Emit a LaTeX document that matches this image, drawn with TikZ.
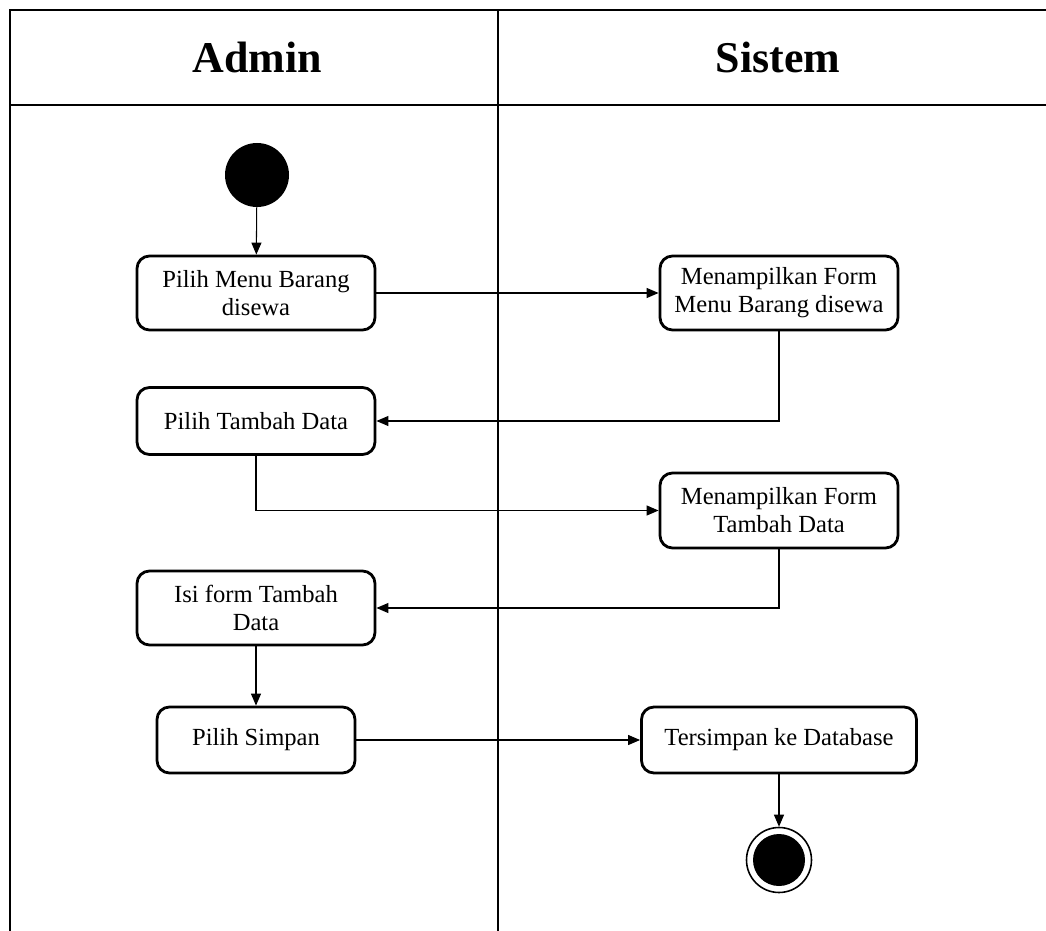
\documentclass[tikz,border=0pt]{standalone}
\usepackage{fontspec}
\setmainfont{Liberation Serif}
\usetikzlibrary{arrows.meta}

\tikzset{
  lane/.style={line width=1.6pt},
  act/.style={draw, line width=1.6pt, rounded corners=0.25cm, align=center,
    font=\fontsize{14}{16}\selectfont, inner sep=2pt},
  flow/.style={line width=0.6pt, -{Triangle[length=0.24cm,width=0.2cm]}},
  initstate/.style={circle, fill=black, minimum size=1.28cm, inner sep=0pt},
  finalstate/.style={circle, draw, line width=0.9pt, minimum size=1.3cm, inner sep=0pt,
    path picture={\fill (path picture bounding box.center) circle (0.52);}},
}

\begin{document}
\begin{tikzpicture}
  \useasboundingbox (0,0) rectangle (20.92,-18.62);
  % swimlanes
  \draw[lane] (20.92,-0.2) -- (0.2,-0.2) -- (0.2,-18.62);
  \draw[lane] (0.2,-2.1) -- (20.92,-2.1);
  \draw[lane] (9.96,-0.2) -- (9.96,-18.62);
  \node[font=\fontsize{25}{28}\selectfont\bfseries] (hadmin) at (5.14,-1.15) {Admin};
  \node[font=\fontsize{25}{28}\selectfont\bfseries] (hsistem) at (15.56,-1.15) {Sistem};

  % activities
  \node[initstate] (start) at (5.14,-3.5) {};
  \node[act, minimum width=4.76cm, minimum height=1.48cm] (menu) at (5.12,-5.86) {Pilih Menu Barang\\disewa};
  \node[act, minimum width=4.76cm, minimum height=1.48cm] (formmenu) at (15.58,-5.86) {Menampilkan Form\\Menu Barang disewa};
  \node[act, minimum width=4.76cm, minimum height=1.34cm] (tambah) at (5.12,-8.42) {Pilih Tambah Data};
  \node[act, minimum width=4.76cm, minimum height=1.5cm] (formtambah) at (15.58,-10.21) {Menampilkan Form\\Tambah Data};
  \node[act, minimum width=4.76cm, minimum height=1.48cm] (isi) at (5.12,-12.16) {Isi form Tambah\\Data};
  \node[act, minimum width=3.96cm, minimum height=1.32cm] (simpan) at (5.12,-14.8) {Pilih Simpan};
  \node[act, minimum width=5.5cm, minimum height=1.32cm] (tersimpan) at (15.58,-14.8) {Tersimpan ke Database};
  \node[finalstate] (finish) at (15.58,-17.2) {};

  % transitions
  \draw[flow] (start) -- (menu);
  \draw[flow] (menu) -- (formmenu);
  \draw[flow] (formmenu.south) |- (tambah.east);
  \draw[flow] (tambah.south) |- (formtambah.west);
  \draw[flow] (formtambah.south) |- (isi.east);
  \draw[flow] (isi) -- (simpan);
  \draw[flow] (simpan) -- (tersimpan);
  \draw[flow] (tersimpan) -- (finish);
\end{tikzpicture}
\end{document}
